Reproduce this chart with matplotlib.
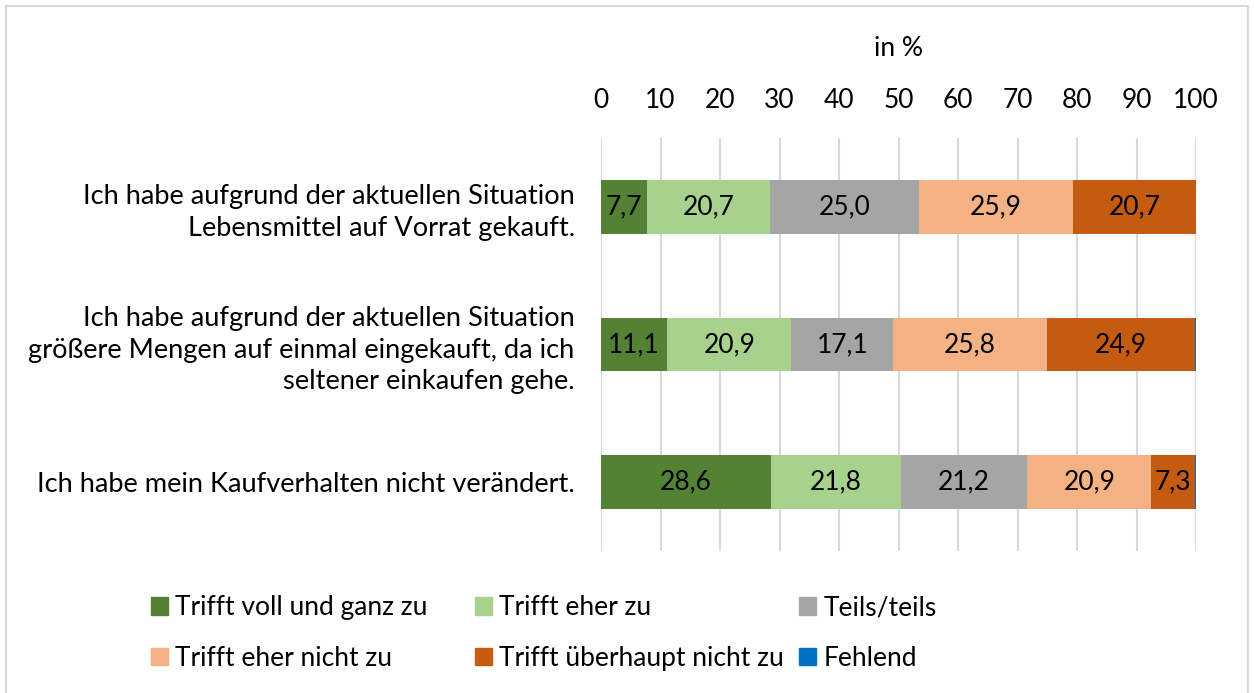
import numpy as np
import matplotlib.pyplot as plt
from matplotlib.patches import Rectangle, Patch

plt.rcParams['font.family'] = ['Lato', 'DejaVu Sans']

statements = ['Ich habe aufgrund der aktuellen Situation\nLebensmittel auf Vorrat gekauft.',
              'Ich habe aufgrund der aktuellen Situation\ngrößere Mengen auf einmal eingekauft, da ich\nseltener einkaufen gehe.',
              'Ich habe mein Kaufverhalten nicht verändert.']
categories = ['Trifft voll und ganz zu', 'Trifft eher zu', 'Teils/teils',
              'Trifft eher nicht zu', 'Trifft überhaupt nicht zu', 'Fehlend']
voll = [7.7, 11.1, 28.6]
eher = [20.7, 20.9, 21.8]
teils = [25.0, 17.1, 21.2]
eher_nicht = [25.9, 25.8, 20.9]
ueberhaupt = [20.7, 24.9, 7.3]
fehlend = [0.0, 0.2, 0.2]
colors = ['#548235', '#A9D18E', '#A5A5A5', '#F4B183', '#C55A11', '#0070C0']
xticks = [0, 10, 20, 30, 40, 50, 60, 70, 80, 90, 100]

fs = 19
fig = plt.figure(figsize=(12.54, 6.93), dpi=100)
ax = fig.add_axes([0.4793, 0.2049, 0.4745, 0.596])

series = [voll, eher, teils, eher_nicht, ueberhaupt, fehlend]
y = np.arange(len(statements))
left = np.zeros(len(statements))
handles = []
for i, vals in enumerate(series):
    bars = ax.barh(y, vals, left=left, height=0.39, color=colors[i], zorder=3)
    if i < 5:
        ax.bar_label(bars, labels=[('%.1f' % v).replace('.', ',') for v in vals],
                     label_type='center', fontsize=fs, color='black')
    handles.append(Patch(color=colors[i], label=categories[i]))
    left += np.array(vals)

ax.set_xlim(0, 100)
ax.set_ylim(2.5, -0.5)
ax.set_yticks(y)
ax.set_yticklabels(statements, fontsize=19.6, ha='right', multialignment='right',
                   linespacing=1.33)
ax.xaxis.tick_top()
ax.xaxis.set_label_position('top')
ax.set_xticks(xticks)
ax.set_xticklabels([str(t) for t in xticks], fontsize=fs)
ax.tick_params(axis='x', length=0, pad=18)
ax.tick_params(axis='y', length=0, pad=19)
ax.set_xlabel('in %', fontsize=fs, labelpad=23)
ax.grid(axis='x', color='#D9D9D9', linewidth=1.5, zorder=0)
for s in ax.spines.values():
    s.set_visible(False)

# legend, three columns
col_x = [0.1204, 0.3788, 0.6372]
for j in range(3):
    fig.legend(handles=[handles[j], handles[j + 3]], loc='upper left',
               bbox_to_anchor=(col_x[j], 0.141), frameon=False, fontsize=fs,
               handlelength=0.65, handleheight=0.65, handletextpad=0.27,
               labelspacing=0.97, borderaxespad=0, borderpad=0)

# chart frame
fig.patches.append(Rectangle((0.0045, -0.05), 0.991, 1.041, transform=fig.transFigure,
                             fill=False, edgecolor='#D9D9D9', linewidth=1.5))

fig.savefig('out.png', dpi=100)
